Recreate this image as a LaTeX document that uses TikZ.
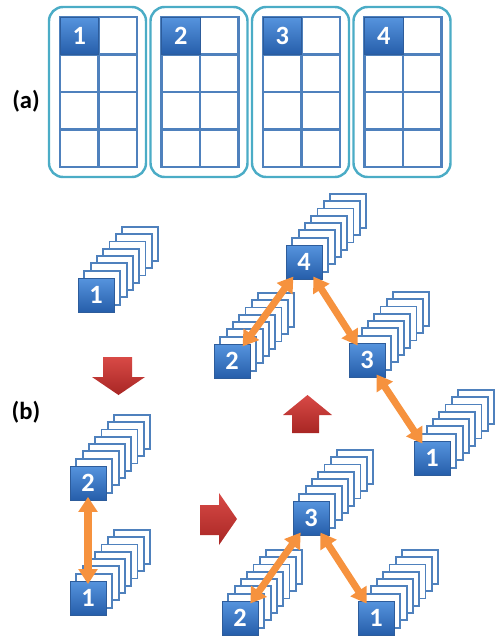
\documentclass[tikz,border=0pt]{standalone}
\usepackage{fontspec}
\setmainfont{Carlito}
\usetikzlibrary{
    arrows.meta,
    calc,
    positioning
}

\definecolor{boxblue}{RGB}{79,129,189}
\definecolor{boxedge}{RGB}{45,92,155}
\definecolor{boxtop}{RGB}{86,148,222}
\definecolor{boxbot}{RGB}{38,94,170}
\definecolor{paneledge}{RGB}{75,172,198}
\definecolor{linkorange}{RGB}{246,146,62}
\definecolor{steptop}{RGB}{216,74,70}
\definecolor{stepbot}{RGB}{168,38,36}

\tikzset{
    sheet/.style={draw=boxblue, fill=white, line width=1.1pt,
        minimum width=0.72cm, minimum height=0.68cm, inner sep=0pt},
    bluebox/.style={draw=boxedge, line width=0.5pt, top color=boxtop, bottom color=boxbot,
        minimum width=0.72cm, minimum height=0.68cm, inner sep=0pt,
        text=white, font=\fontsize{15}{15}\selectfont\bfseries},
    bluecell/.style={bluebox, minimum width=0.77cm, minimum height=0.75cm},
    panel/.style={draw=paneledge, line width=1.4pt, rounded corners=8pt},
    cell/.style={draw=boxblue, line width=1.3pt},
    link/.style={draw=linkorange, line width=4pt,
        {Triangle[width=10.5pt,length=8.5pt]}-{Triangle[width=10.5pt,length=8.5pt]},
        shorten <=-2pt, shorten >=-2pt},
    redstep/.style={top color=steptop, bottom color=stepbot},
    tag/.style={font=\fontsize{14}{16}\selectfont\bfseries}
}

% stack of sheets: name, position, label
\newcommand{\sheetstack}[3]{%
    \foreach \k in {7,...,1}
        \node[sheet] at ($(#2)+({6.3*\k},{-7.3*\k})$) {};
    \node[bluebox] (#1) at (#2) {#3};
}

\begin{document}
\begin{tikzpicture}[x=0.02cm, y=-0.02cm]
    \useasboundingbox (0,0) rectangle (497,636);

    % (a)
    \node[tag] (la) at (26,101) {(a)};
    \foreach \i in {1,...,4} {
        \draw[panel] ({49+101.5*(\i-1)},7) rectangle ++(97,170);
        \foreach \r in {0,...,3}
            \foreach \c in {0,1}
                \draw[cell] ({60+101.5*(\i-1)+38.5*\c},{17+37.5*\r}) rectangle ++(38.5,37.5);
        \node[bluecell] (cell\i) at ({79.25+101.5*(\i-1)},35.75) {\i};
    }

    % (b)
    \node[tag] (lb) at (26,412) {(b)};

    \sheetstack{s1}{96,295}{1}

    \sheetstack{t4}{304,262}{4}
    \sheetstack{t2}{232,361}{2}
    \sheetstack{t3}{367,360}{3}
    \sheetstack{t1}{432,458}{1}

    \sheetstack{p2}{88,483}{2}
    \sheetstack{p1}{88,598}{1}

    \sheetstack{q3}{311,518}{3}
    \sheetstack{q2}{240,618}{2}
    \sheetstack{q1}{376,618}{1}

    % block arrows
    \path[redstep] (103,357) -- (132,357) -- (132,377) -- (145,377)
        -- (118.5,395) -- (92,377) -- (103,377) -- cycle;
    \path[redstep] (200,505) -- (219,505) -- (219,493) -- (237,519)
        -- (219,545) -- (219,535) -- (200,535) -- cycle;
    \path[redstep] (292,433) -- (292,415) -- (283,415) -- (307.5,395)
        -- (332,415) -- (319,415) -- (319,433) -- cycle;

    \draw
    (t4) edge[link] (t2)
    (t4) edge[link] (t3)
    (t3) edge[link] (t1)
    (p2) edge[link] (p1)
    (q3) edge[link] (q2)
    (q3) edge[link] (q1);
\end{tikzpicture}
\end{document}
